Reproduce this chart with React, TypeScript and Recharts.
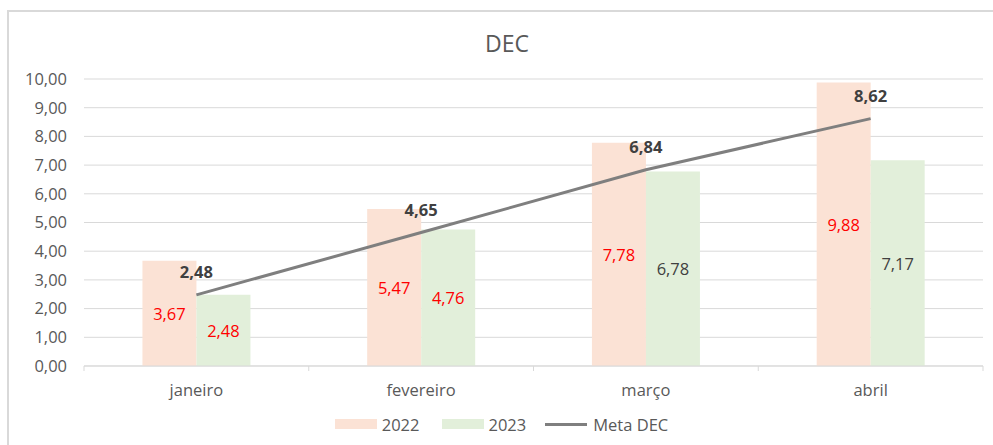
import React from 'react';
import {
  ComposedChart,
  Bar,
  Line,
  XAxis,
  YAxis,
  CartesianGrid,
  Legend,
  LabelList,
} from 'recharts';

const months = ['janeiro', 'fevereiro', 'março', 'abril'];
const values2022 = [3.67, 5.47, 7.78, 9.88];
const values2023 = [2.48, 4.76, 6.78, 7.17];
const metaDec = [2.48, 4.65, 6.84, 8.62];
const yTicks = [0, 1, 2, 3, 4, 5, 6, 7, 8, 9, 10];

const data = months.map((m, i) => ({
  month: m,
  y2022: values2022[i],
  y2023: values2023[i],
  meta: metaDec[i],
}));

const W = 993;
const H = 445;
const Y_W = 84;
const M_RIGHT = 10;
const HALF_BAND = (W - Y_W - M_RIGHT) / months.length / 2;

const FONT = '"Open Sans", "DejaVu Sans", sans-serif';
const fmt = (v: number) => v.toFixed(2).replace('.', ',');

// red when the value reached the goal, dark grey otherwise
const barLabel = (key: 'y2022' | 'y2023') => (props: any) => {
  const { x, y, width, height, index } = props;
  const v = data[index][key];
  const color = v >= data[index].meta ? '#ff0000' : '#404040';
  return (
    <text
      x={x + width / 2}
      y={y + height / 2}
      textAnchor="middle"
      dominantBaseline="central"
      fill={color}
      fontSize={16.5}
      fontFamily={FONT}
    >
      {fmt(v)}
    </text>
  );
};

const metaLabel = (props: any) => {
  const { x, y, index } = props;
  return (
    <text
      x={x}
      y={y - 23}
      textAnchor="middle"
      dominantBaseline="central"
      fill="#404040"
      fontSize={16.5}
      fontWeight="bold"
      fontFamily={FONT}
    >
      {fmt(metaDec[index])}
    </text>
  );
};

// category label plus the small boundary tick marks under the axis
const MonthTick = (props: any) => {
  const { x, y, payload, index } = props;
  const axisY = y - 16;
  return (
    <g>
      <line x1={x - HALF_BAND} x2={x - HALF_BAND} y1={axisY} y2={axisY + 5} stroke="#d9d9d9" />
      {index === months.length - 1 && (
        <line x1={x + HALF_BAND} x2={x + HALF_BAND} y1={axisY} y2={axisY + 5} stroke="#d9d9d9" />
      )}
      <text
        x={x}
        y={y + 7}
        textAnchor="middle"
        dominantBaseline="central"
        fill="#595959"
        fontSize={16.5}
        fontFamily={FONT}
      >
        {payload.value}
      </text>
    </g>
  );
};

const LegendContent = () => (
  <div
    style={{
      display: 'flex',
      justifyContent: 'center',
      alignItems: 'center',
      height: 20,
      fontFamily: FONT,
      fontSize: 16.5,
      color: '#595959',
      paddingLeft: 20,
    }}
  >
    <span style={{ width: 42, height: 10, background: '#fbe2d5', marginRight: 5 }} />
    <span style={{ marginRight: 22 }}>2022</span>
    <span style={{ width: 42, height: 10, background: '#e2efda', marginRight: 5 }} />
    <span style={{ marginRight: 19 }}>2023</span>
    <span style={{ width: 42, height: 3, background: '#7f7f7f', marginRight: 6 }} />
    <span>Meta DEC</span>
  </div>
);

export default function App() {
  return (
    <div
      style={{
        position: 'absolute',
        left: 0,
        top: 0,
        width: W,
        height: H,
        overflow: 'hidden',
        background: '#fff',
      }}
    >
      <div
        style={{
          position: 'absolute',
          left: 7,
          top: 10,
          width: 1000,
          height: 500,
          borderLeft: '2px solid #d9d9d9',
          borderTop: '2px solid #d9d9d9',
        }}
      />
      <div
        style={{
          position: 'absolute',
          top: 27,
          left: 0,
          width: 1014,
          textAlign: 'center',
          fontFamily: FONT,
          fontSize: 23,
          color: '#595959',
        }}
      >
        DEC
      </div>
      <div style={{ position: 'absolute', left: 0, top: 0 }}>
        <ComposedChart
          width={W}
          height={H}
          data={data}
          margin={{ top: 79, right: M_RIGHT, bottom: 11, left: 0 }}
          barCategoryGap="26%"
          barGap={0}
        >
          <CartesianGrid vertical={false} stroke="#d9d9d9" />
          <XAxis
            dataKey="month"
            axisLine={{ stroke: '#d9d9d9' }}
            tickLine={false}
            tickSize={0}
            tickMargin={16}
            height={48}
            interval={0}
            tick={<MonthTick />}
          />
          <YAxis
            domain={[0, 10]}
            ticks={yTicks}
            width={Y_W}
            axisLine={false}
            tickLine={false}
            tickSize={0}
            tickMargin={17}
            tickFormatter={fmt}
            tick={{ fill: '#595959', fontSize: 16.5, fontFamily: FONT }}
          />
          <Legend verticalAlign="bottom" content={<LegendContent />} />
          <Bar dataKey="y2022" name="2022" fill="#fbe2d5" isAnimationActive={false}>
            <LabelList content={barLabel('y2022')} />
          </Bar>
          <Bar dataKey="y2023" name="2023" fill="#e2efda" isAnimationActive={false}>
            <LabelList content={barLabel('y2023')} />
          </Bar>
          <Line
            dataKey="meta"
            name="Meta DEC"
            stroke="#7f7f7f"
            strokeWidth={3}
            dot={false}
            activeDot={false}
            isAnimationActive={false}
          >
            <LabelList content={metaLabel} />
          </Line>
        </ComposedChart>
      </div>
    </div>
  );
}
